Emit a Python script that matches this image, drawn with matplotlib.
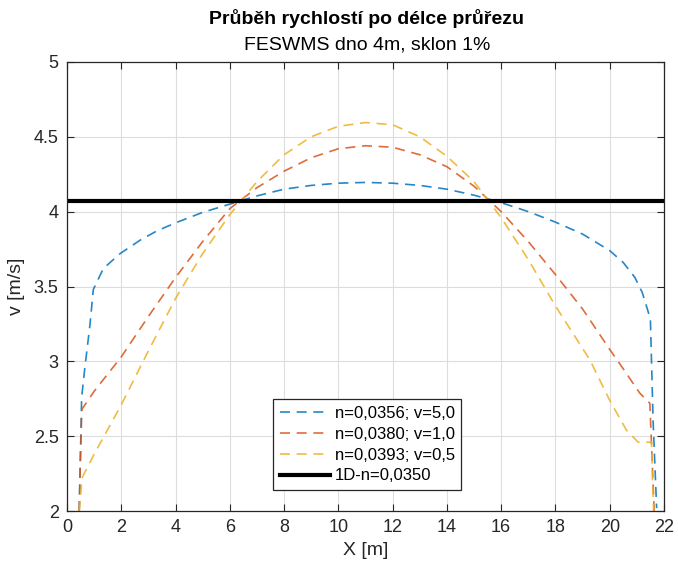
import matplotlib
matplotlib.use("Agg")
import matplotlib.pyplot as plt

plt.rcParams['font.family'] = ['Liberation Sans', 'DejaVu Sans']

# Data
x_blue = [0.45, 0.5, 0.54, 0.66, 0.85, 0.97, 1.34, 1.96, 2.7, 3.3, 4.0, 5.0, 6.0, 7.0, 8.0, 9.0, 10.0, 11.0,
          12.0, 13.0, 14.0, 15.0, 16.0, 17.0, 18.0, 19.0, 20.0, 20.5, 20.93, 21.2, 21.42, 21.5, 21.6, 21.73]
v_blue = [2.0, 2.4, 2.76, 2.96, 3.25, 3.48, 3.62, 3.72, 3.81, 3.87, 3.925, 3.995, 4.05, 4.105, 4.15, 4.175, 4.19, 4.195,
          4.19, 4.175, 4.15, 4.11, 4.06, 4.0, 3.93, 3.85, 3.74, 3.66, 3.56, 3.46, 3.33, 3.28, 2.6, 2.02]

x_red = [0.45, 0.5, 0.55, 1.0, 2.0, 3.0, 4.0, 5.0, 6.0, 7.0, 8.0, 9.0, 10.0, 11.0, 12.0, 13.0, 14.0,
         15.0, 16.0, 17.0, 18.0, 19.0, 20.0, 20.5, 21.1, 21.48, 21.55, 21.64]
v_red = [2.0, 2.4, 2.68, 2.8, 3.03, 3.3, 3.56, 3.8, 4.02, 4.16, 4.27, 4.36, 4.42, 4.44, 4.43, 4.38, 4.30,
         4.17, 4.0, 3.8, 3.58, 3.35, 3.08, 2.95, 2.79, 2.72, 2.4, 2.0]

x_yel = [0.45, 0.5, 0.55, 1.0, 2.0, 3.0, 4.0, 5.0, 6.0, 7.0, 8.0, 9.0, 10.0, 11.0, 12.0, 13.0, 14.0,
         15.0, 16.0, 17.0, 18.0, 19.27, 20.0, 20.62, 21.05, 21.54, 21.58, 21.62]
v_yel = [2.0, 2.1, 2.22, 2.38, 2.71, 3.07, 3.42, 3.72, 3.98, 4.2, 4.38, 4.5, 4.57, 4.595, 4.58, 4.5, 4.37,
         4.2, 3.96, 3.68, 3.37, 3.01, 2.74, 2.54, 2.46, 2.46, 2.2, 2.0]

x_1d = [0, 22]
v_1d = [4.07, 4.07]

labels = ['n=0,0356; v=5,0', 'n=0,0380; v=1,0', 'n=0,0393; v=0,5', '1D-n=0,0350']
colors = ['#0072BD', '#D95319', '#EDB120', '#000000']

fig = plt.figure(figsize=(6.78, 5.73), dpi=100)
ax = fig.add_axes([0.0988, 0.108, 0.8805, 0.784])

ax.plot(x_blue, v_blue, '--', color=colors[0], lw=1.2, dashes=(6, 4), label=labels[0], alpha=0.85)
ax.plot(x_red, v_red, '--', color=colors[1], lw=1.2, dashes=(6, 4), label=labels[1], alpha=0.85)
ax.plot(x_yel, v_yel, '--', color=colors[2], lw=1.2, dashes=(6, 4), label=labels[2], alpha=0.85)
ax.plot(x_1d, v_1d, '-', color=colors[3], lw=3.0, label=labels[3])

ax.set_xlim(0, 22)
ax.set_ylim(2, 5)
ax.set_xticks(range(0, 23, 2))
ax.set_yticks([2, 2.5, 3, 3.5, 4, 4.5, 5])
ax.set_yticklabels(['2', '2.5', '3', '3.5', '4', '4.5', '5'])
ax.grid(True, color='#dddddd', lw=0.8)
ax.set_axisbelow(True)
ax.tick_params(direction='in', top=True, right=True, labelsize=13, length=5, color='#262626',
               labelcolor='#262626', pad=6)
for s in ax.spines.values():
    s.set_color('#262626')
    s.set_linewidth(0.9)

ax.set_xlabel('X [m]', fontsize=14, color='#262626', labelpad=4)
ax.set_ylabel('v [m/s]', fontsize=14, color='#262626', labelpad=6)

fig.text(0.541, 0.968, 'Průběh rychlostí po délce průřezu', ha='center', va='center',
         fontsize=14, fontweight='bold', color='#000000')
fig.text(0.541, 0.921, 'FESWMS dno 4m, sklon 1%', ha='center', va='center',
         fontsize=14, color='#000000')

leg = ax.legend(loc='lower center', bbox_to_anchor=(0.503, 0.047), fontsize=12, fancybox=False,
                edgecolor='#262626', framealpha=1, handlelength=3.0, borderpad=0.4, labelspacing=0.35,
                handletextpad=0.3, borderaxespad=0)
leg.get_frame().set_linewidth(0.9)

fig.savefig('out.png', dpi=100)
